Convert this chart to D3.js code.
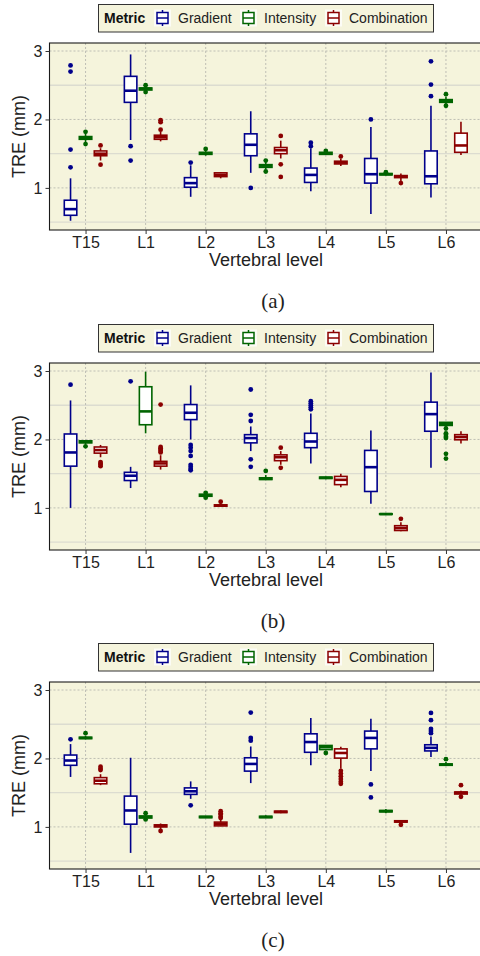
<!DOCTYPE html>
<html>
<head>
<meta charset="utf-8">
<script src="https://cdn.jsdelivr.net/npm/d3@7"></script>
<style>
  body { margin: 0; background: #fff; }
  svg { display: block; font-family: "Liberation Sans", Arial, sans-serif; }
</style>
</head>
<body>
<div id="chart"></div>
<script>
// categories and metrics
const levels = ["T15", "L1", "L2", "L3", "L4", "L5", "L6"];
const metrics = ["Gradient", "Intensity", "Combination"];
const metricColors = ["#00008b", "#006400", "#8b0000"];
const yTicks = [1, 2, 3];
const yMinor = [0.5, 1.5, 2.5];
const captions = ["(a)", "(b)", "(c)"];

// box stats per level: [lower whisker, q1, median, q3, upper whisker]
const aGradient = [[0.52, 0.60, 0.69, 0.82, 1.14], [1.70, 2.25, 2.42, 2.63, 2.95], [0.87, 1.01, 1.07, 1.15, 1.33],
  [1.22, 1.47, 1.63, 1.79, 2.12], [0.95, 1.08, 1.19, 1.29, 1.58], [0.62, 1.07, 1.20, 1.43, 1.89], [0.86, 1.06, 1.17, 1.54, 2.20]];
const aGradientOut = [[2.79, 2.70, 1.56, 1.30], [1.61, 1.40], [1.37], [1.00], [1.66, 1.61], [2.00], [2.85, 2.51, 2.34]];
const aIntensity = [[1.67, 1.71, 1.73, 1.75, 1.79], [2.41, 2.43, 2.45, 2.46, 2.48], [1.47, 1.49, 1.505, 1.52, 1.55],
  [1.27, 1.30, 1.325, 1.34, 1.38], [1.48, 1.49, 1.505, 1.52, 1.53], [1.18, 1.19, 1.20, 1.21, 1.22], [2.22, 2.25, 2.27, 2.29, 2.33]];
const aIntensityOut = [[1.82, 1.64], [2.50, 2.40], [1.57], [1.40, 1.24], [1.54], [1.23], [2.37, 2.20]];
const aCombination = [[1.40, 1.47, 1.50, 1.54, 1.58], [1.68, 1.71, 1.74, 1.77, 1.82], [1.14, 1.165, 1.19, 1.22, 1.23],
  [1.43, 1.50, 1.55, 1.59, 1.69], [1.32, 1.35, 1.37, 1.39, 1.43], [1.10, 1.15, 1.165, 1.18, 1.21], [1.48, 1.52, 1.62, 1.80, 1.965]];
const aCombinationOut = [[1.62, 1.34], [1.99, 1.96, 1.85], [], [1.76, 1.345, 1.16], [1.46], [1.07], []];

const bGradient = [[1.00, 1.61, 1.81, 2.08, 2.57], [1.29, 1.40, 1.47, 1.52, 1.60], [2.00, 2.29, 2.39, 2.51, 2.79],
  [1.83, 1.95, 2.02, 2.07, 2.19], [1.65, 1.88, 1.97, 2.09, 2.38], [1.06, 1.24, 1.595, 1.84, 2.13], [1.585, 2.12, 2.37, 2.545, 2.98]];
const bGradientOut = [[2.80], [2.85], [1.92, 1.88, 1.83, 1.76, 1.63, 1.60, 1.57, 1.55], [2.73, 2.36, 2.27, 1.71, 1.60],
  [2.56, 2.53, 2.50, 2.47, 2.44], [], []];
const bIntensity = [[1.93, 1.95, 1.965, 1.98, 1.99], [2.09, 2.215, 2.41, 2.77, 2.99], [1.16, 1.17, 1.185, 1.20, 1.21],
  [1.41, 1.415, 1.425, 1.44, 1.48], [1.42, 1.43, 1.44, 1.45, 1.46], [0.905, 0.905, 0.91, 0.915, 0.915], [2.16, 2.205, 2.23, 2.25, 2.25]];
const bIntensityOut = [[1.90], [], [1.22, 1.15], [1.54], [], [], [2.16, 2.09, 2.07, 2.04, 2.02, 1.79, 1.72]];
const bCombination = [[1.74, 1.80, 1.845, 1.89, 1.92], [1.56, 1.61, 1.65, 1.68, 1.77], [1.02, 1.025, 1.035, 1.045, 1.06],
  [1.63, 1.69, 1.74, 1.775, 1.83], [1.30, 1.34, 1.41, 1.46, 1.50], [0.66, 0.67, 0.705, 0.74, 0.79], [1.94, 1.995, 2.035, 2.07, 2.12]];
const bCombinationOut = [[1.67, 1.65, 1.63, 1.61], [2.51, 1.89, 1.87, 1.85, 1.83, 1.81], [1.09], [1.88, 1.585], [], [0.84], []];

const cGradient = [[1.73, 1.90, 1.97, 2.05, 2.21], [0.62, 1.04, 1.24, 1.45, 2.01], [1.41, 1.475, 1.52, 1.57, 1.665],
  [1.64, 1.815, 1.92, 2.01, 2.175], [1.90, 2.09, 2.24, 2.36, 2.59], [1.815, 2.14, 2.30, 2.40, 2.58], [2.02, 2.11, 2.155, 2.20, 2.32]];
const cGradientOut = [[2.28], [], [1.315], [2.67, 2.30, 2.26], [], [1.62, 1.43], [2.665, 2.56, 2.43, 2.40, 2.37]];
const cIntensity = [[2.28, 2.29, 2.30, 2.31, 2.33], [1.12, 1.13, 1.145, 1.16, 1.18], [1.13, 1.135, 1.145, 1.155, 1.16],
  [1.13, 1.135, 1.145, 1.155, 1.17], [2.12, 2.13, 2.165, 2.19, 2.19], [1.20, 1.22, 1.23, 1.24, 1.26], [1.89, 1.90, 1.91, 1.92, 1.95]];
const cIntensityOut = [[2.37], [1.20, 1.11], [], [], [2.08], [], [1.99]];
const cCombination = [[1.61, 1.63, 1.675, 1.72, 1.77], [0.97, 1.00, 1.015, 1.03, 1.05], [1.01, 1.015, 1.045, 1.07, 1.10],
  [1.20, 1.21, 1.22, 1.23, 1.24], [1.85, 2.005, 2.08, 2.14, 2.17], [1.06, 1.07, 1.08, 1.09, 1.10], [1.46, 1.48, 1.50, 1.51, 1.53]];
const cCombinationOut = [[1.88, 1.85, 1.83], [0.94], [1.23, 1.20, 1.18, 1.15, 1.13], [], [1.82, 1.78, 1.74, 1.70, 1.66, 1.63],
  [1.03], [1.61, 1.44]];

const panels = [
  { stats: [aGradient, aIntensity, aCombination], outs: [aGradientOut, aIntensityOut, aCombinationOut] },
  { stats: [bGradient, bIntensity, bCombination], outs: [bGradientOut, bIntensityOut, bCombinationOut] },
  { stats: [cGradient, cIntensity, cCombination], outs: [cGradientOut, cIntensityOut, cCombinationOut] }
];

const width = 480, height = 956;
const panelOffsets = [0, 320, 639];
const plotLeft = 49.5, plotRight = 482, plotTop = 43, plotH = 187;
const beige = "#f5f4dc";

const svg = d3.select("#chart").append("svg")
  .attr("width", width)
  .attr("height", height);

const x = d3.scalePoint().domain(levels).range([plotLeft, plotRight]).padding(0.6);
const dodge = d3.scaleBand().domain(metrics).range([-22.5, 22.5]);
const boxW = 12.5;

function drawPanel(p, i) {
  const off = panelOffsets[i];
  const g = svg.append("g").attr("transform", `translate(0,${off})`);

  const y = d3.scaleLinear().domain([0.385, 3.117]).range([plotTop + plotH, plotTop]);

  // legend
  const lg = g.append("g");
  lg.append("rect").attr("x", 98.5).attr("y", 4.5).attr("width", 335).attr("height", 27.5)
    .attr("fill", beige).attr("stroke", "#333").attr("stroke-width", 1);
  lg.append("text").attr("x", 104).attr("y", 23.3).attr("font-size", 14).attr("font-weight", "bold")
    .attr("fill", "#111").text("Metric");
  const keyX = [154, 240, 325];
  metrics.forEach((m, j) => {
    const kx = keyX[j], cx = kx + 8.5, col = metricColors[j];
    lg.append("rect").attr("x", kx).attr("y", 9.5).attr("width", 17).attr("height", 17).attr("fill", "#fcfcf6");
    lg.append("line").attr("x1", cx).attr("x2", cx).attr("y1", 10).attr("y2", 26)
      .attr("stroke", col).attr("stroke-width", 1.5);
    lg.append("rect").attr("x", cx - 5.5).attr("y", 12.5).attr("width", 11).attr("height", 11)
      .attr("fill", "#fff").attr("stroke", col).attr("stroke-width", 1.5);
    lg.append("line").attr("x1", cx - 5.5).attr("x2", cx + 5.5).attr("y1", 18).attr("y2", 18)
      .attr("stroke", col).attr("stroke-width", 1.5);
    lg.append("text").attr("x", kx + 24).attr("y", 23.3).attr("font-size", 14).attr("fill", "#222").text(m);
  });

  // panel background and grid
  g.append("rect").attr("x", plotLeft).attr("y", plotTop).attr("width", plotRight - plotLeft).attr("height", plotH)
    .attr("fill", beige);
  g.selectAll(".minor").data(yMinor).enter().append("line")
    .attr("x1", plotLeft).attr("x2", plotRight)
    .attr("y1", d => y(d)).attr("y2", d => y(d))
    .attr("stroke", "#dcdcd0").attr("stroke-width", 1.3);
  g.selectAll(".major").data(yTicks).enter().append("line")
    .attr("x1", plotLeft).attr("x2", plotRight)
    .attr("y1", d => y(d)).attr("y2", d => y(d))
    .attr("stroke", "#b9b9b0").attr("stroke-width", 0.9).attr("stroke-dasharray", "2,2");
  g.selectAll(".vgrid").data(levels).enter().append("line")
    .attr("x1", d => x(d)).attr("x2", d => x(d))
    .attr("y1", plotTop).attr("y2", plotTop + plotH)
    .attr("stroke", "#b9b9b0").attr("stroke-width", 0.9).attr("stroke-dasharray", "2,2");

  // boxes
  metrics.forEach((m, j) => {
    const col = metricColors[j];
    const bg = g.append("g");
    const data = p.stats[j].map((s, k) => ({ lvl: levels[k], s: s, out: p.outs[j][k] }));
    const cxOf = d => x(d.lvl) + dodge(m) + dodge.bandwidth() / 2;

    bg.selectAll(".whisker").data(data).enter().append("line")
      .attr("x1", cxOf).attr("x2", cxOf)
      .attr("y1", d => y(d.s[0])).attr("y2", d => y(d.s[4]))
      .attr("stroke", col).attr("stroke-width", 1.6);
    bg.selectAll(".box").data(data).enter().append("rect")
      .attr("x", d => cxOf(d) - boxW / 2).attr("width", boxW)
      .attr("y", d => y(d.s[3])).attr("height", d => Math.max(y(d.s[1]) - y(d.s[3]), 0.5))
      .attr("fill", "#fff").attr("stroke", col).attr("stroke-width", 1.6);
    bg.selectAll(".median").data(data).enter().append("line")
      .attr("x1", d => cxOf(d) - boxW / 2).attr("x2", d => cxOf(d) + boxW / 2)
      .attr("y1", d => y(d.s[2])).attr("y2", d => y(d.s[2]))
      .attr("stroke", col).attr("stroke-width", 2.6);
    data.forEach(d => {
      bg.selectAll(null).data(d.out).enter().append("circle")
        .attr("cx", cxOf(d)).attr("cy", v => y(v)).attr("r", 2.4)
        .attr("fill", col);
    });
  });

  // border
  g.append("rect").attr("x", plotLeft).attr("y", plotTop).attr("width", plotRight - plotLeft).attr("height", plotH)
    .attr("fill", "none").attr("stroke", "#1a1a1a").attr("stroke-width", 1.1);

  // axes
  const yAxis = g.append("g").attr("transform", `translate(${plotLeft},0)`)
    .call(d3.axisLeft(y).tickValues(yTicks).tickSize(4).tickPadding(3).tickFormat(d3.format("d")));
  yAxis.select(".domain").remove();
  yAxis.selectAll("line").attr("stroke", "#333");
  yAxis.selectAll("text").attr("font-size", 16).attr("fill", "#222").attr("font-family", "Liberation Sans, Arial, sans-serif");

  const xAxis = g.append("g").attr("transform", `translate(0,${plotTop + plotH})`)
    .call(d3.axisBottom(x).tickSize(4).tickPadding(3));
  xAxis.select(".domain").remove();
  xAxis.selectAll("line").attr("stroke", "#333");
  xAxis.selectAll("text").attr("font-size", 16).attr("fill", "#222").attr("font-family", "Liberation Sans, Arial, sans-serif");

  g.append("text").attr("x", 266).attr("y", 266).attr("text-anchor", "middle")
    .attr("font-size", 18).attr("fill", "#222").text("Vertebral level");
  g.append("text").attr("transform", `translate(25,${plotTop + plotH / 2}) rotate(-90)`)
    .attr("text-anchor", "middle").attr("font-size", 18).attr("fill", "#222").text("TRE (mm)");

  g.append("text").attr("x", 273).attr("y", 308).attr("text-anchor", "middle")
    .attr("font-size", 21).attr("font-family", "Liberation Serif, DejaVu Serif, serif").attr("fill", "#222")
    .text(captions[i]);
}

panels.forEach(drawPanel);
</script>
</body>
</html>
